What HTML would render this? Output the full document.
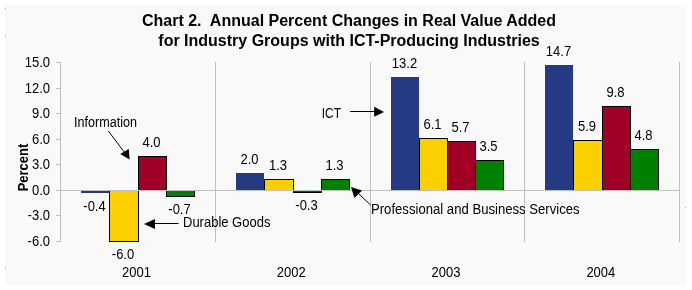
<!DOCTYPE html>
<html><head><meta charset="utf-8"><style>
html,body{margin:0;padding:0;background:#fff;}
body{width:692px;height:290px;overflow:hidden;position:relative;}
svg{position:absolute;left:0;top:0;will-change:transform;}
text{white-space:pre;font-family:"Liberation Sans",sans-serif;font-size:13px;fill:#000;}
.t{font-weight:bold;font-size:16px;}
</style></head><body>
<svg width="692" height="290" viewBox="0 0 692 290" xml:space="preserve">
<rect x="5" y="5" width="681" height="280" fill="#f9f9f9"/>
<rect x="5" y="8" width="1" height="1" fill="#aaa"/>
<rect x="5" y="36" width="1" height="1" fill="#aaa"/>
<rect x="5" y="268" width="1" height="1" fill="#aaa"/>
<rect x="685" y="207" width="1" height="1" fill="#aaa"/>
<g shape-rendering="crispEdges">
<rect x="60" y="62" width="1" height="180" fill="#c0c0c0"/>
<rect x="215" y="62" width="1" height="180" fill="#c0c0c0"/>
<rect x="370" y="62" width="1" height="180" fill="#c0c0c0"/>
<rect x="524" y="62" width="1" height="180" fill="#c0c0c0"/>
<rect x="679" y="62" width="1" height="180" fill="#c0c0c0"/>
<rect x="56" y="62" width="4" height="1" fill="#c0c0c0"/>
<rect x="56" y="88" width="4" height="1" fill="#c0c0c0"/>
<rect x="56" y="113" width="4" height="1" fill="#c0c0c0"/>
<rect x="56" y="139" width="4" height="1" fill="#c0c0c0"/>
<rect x="56" y="164" width="4" height="1" fill="#c0c0c0"/>
<rect x="56" y="190" width="4" height="1" fill="#c0c0c0"/>
<rect x="56" y="215" width="4" height="1" fill="#c0c0c0"/>
<rect x="56" y="241" width="4" height="1" fill="#c0c0c0"/>
<rect x="81" y="190" width="28" height="3" fill="#243b84"/>
<rect x="109" y="190" width="30" height="52" fill="#000"/>
<rect x="110" y="191" width="28" height="50" fill="#fcd000"/>
<rect x="138" y="156" width="29" height="35" fill="#000"/>
<rect x="139" y="157" width="27" height="33" fill="#a00026"/>
<rect x="166" y="190" width="29" height="7" fill="#000"/>
<rect x="167" y="191" width="27" height="5" fill="#008000"/>
<rect x="236" y="173" width="28" height="18" fill="#243b84"/>
<rect x="264" y="179" width="30" height="12" fill="#000"/>
<rect x="265" y="180" width="28" height="10" fill="#fcd000"/>
<rect x="293" y="190" width="29" height="3" fill="#000"/>
<rect x="294" y="191" width="27" height="1" fill="#a00026"/>
<rect x="321" y="179" width="29" height="12" fill="#000"/>
<rect x="322" y="180" width="27" height="10" fill="#008000"/>
<rect x="391" y="77" width="28" height="114" fill="#243b84"/>
<rect x="419" y="138" width="29" height="53" fill="#000"/>
<rect x="420" y="139" width="27" height="51" fill="#fcd000"/>
<rect x="447" y="141" width="29" height="50" fill="#000"/>
<rect x="448" y="142" width="27" height="48" fill="#a00026"/>
<rect x="475" y="160" width="29" height="31" fill="#000"/>
<rect x="476" y="161" width="27" height="29" fill="#008000"/>
<rect x="545" y="65" width="28" height="126" fill="#243b84"/>
<rect x="573" y="140" width="30" height="51" fill="#000"/>
<rect x="574" y="141" width="28" height="49" fill="#fcd000"/>
<rect x="602" y="106" width="29" height="85" fill="#000"/>
<rect x="603" y="107" width="27" height="83" fill="#a00026"/>
<rect x="630" y="149" width="29" height="42" fill="#000"/>
<rect x="631" y="150" width="27" height="40" fill="#008000"/>
<rect x="56" y="190" width="624" height="1" fill="#c0c0c0"/>
</g>
<line x1="108.3" y1="131" x2="125" y2="153" stroke="#000" stroke-width="1"/>
<polygon points="129.6,159.6 120.2,154 128.8,149" fill="#000"/>
<line x1="178.5" y1="223.5" x2="154" y2="223.5" stroke="#000" stroke-width="1"/>
<polygon points="143.9,224 155,218.9 155,228.9" fill="#000"/>
<line x1="350" y1="111.5" x2="375" y2="111.5" stroke="#000" stroke-width="1"/>
<polygon points="384.1,111.9 374.2,106.8 374.2,116.8" fill="#000"/>
<line x1="370.6" y1="205" x2="358" y2="193" stroke="#000" stroke-width="1"/>
<polygon points="351,187 362,190.4 354.4,198" fill="#000"/>
<text class="t" x="349" y="26" text-anchor="middle">Chart 2.  Annual Percent Changes in Real Value Added</text>
<text class="t" x="349" y="46" text-anchor="middle">for Industry Groups with ICT-Producing Industries</text>
<text x="0" y="0" transform="translate(27.5,167.5) rotate(-90) scale(1,1.1)" text-anchor="middle" style="font-weight:bold">Percent</text>
<text transform="translate(50.00,67.00) scale(1,1.1)" text-anchor="end" >15.0</text>
<text transform="translate(50.00,93.00) scale(1,1.1)" text-anchor="end" >12.0</text>
<text transform="translate(50.00,118.00) scale(1,1.1)" text-anchor="end" >9.0</text>
<text transform="translate(50.00,144.00) scale(1,1.1)" text-anchor="end" >6.0</text>
<text transform="translate(50.00,169.00) scale(1,1.1)" text-anchor="end" >3.0</text>
<text transform="translate(50.00,195.00) scale(1,1.1)" text-anchor="end" >0.0</text>
<text transform="translate(50.00,220.00) scale(1,1.1)" text-anchor="end" >-3.0</text>
<text transform="translate(50.00,246.00) scale(1,1.1)" text-anchor="end" >-6.0</text>
<text transform="translate(94.50,211.00) scale(1,1.1)" text-anchor="middle" >-0.4</text>
<text transform="translate(123.00,259.00) scale(1,1.1)" text-anchor="middle" >-6.0</text>
<text transform="translate(151.50,147.00) scale(1,1.1)" text-anchor="middle" >4.0</text>
<text transform="translate(179.50,214.00) scale(1,1.1)" text-anchor="middle" >-0.7</text>
<text transform="translate(249.50,164.00) scale(1,1.1)" text-anchor="middle" >2.0</text>
<text transform="translate(278.00,170.00) scale(1,1.1)" text-anchor="middle" >1.3</text>
<text transform="translate(306.50,210.00) scale(1,1.1)" text-anchor="middle" >-0.3</text>
<text transform="translate(334.50,170.00) scale(1,1.1)" text-anchor="middle" >1.3</text>
<text transform="translate(404.50,68.00) scale(1,1.1)" text-anchor="middle" >13.2</text>
<text transform="translate(432.50,129.00) scale(1,1.1)" text-anchor="middle" >6.1</text>
<text transform="translate(460.50,132.00) scale(1,1.1)" text-anchor="middle" >5.7</text>
<text transform="translate(488.50,151.00) scale(1,1.1)" text-anchor="middle" >3.5</text>
<text transform="translate(558.50,56.00) scale(1,1.1)" text-anchor="middle" >14.7</text>
<text transform="translate(587.00,131.00) scale(1,1.1)" text-anchor="middle" >5.9</text>
<text transform="translate(615.50,97.00) scale(1,1.1)" text-anchor="middle" >9.8</text>
<text transform="translate(643.50,140.00) scale(1,1.1)" text-anchor="middle" >4.8</text>
<text transform="translate(136.57,277.00) scale(1,1.1)" text-anchor="middle" >2001</text>
<text transform="translate(291.32,277.00) scale(1,1.1)" text-anchor="middle" >2002</text>
<text transform="translate(446.07,277.00) scale(1,1.1)" text-anchor="middle" >2003</text>
<text transform="translate(600.83,277.00) scale(1,1.1)" text-anchor="middle" >2004</text>
<text transform="translate(74.00,127.00) scale(0.97,1.1)" text-anchor="start" >Information</text>
<text transform="translate(183.00,227.00) scale(1,1.1)" text-anchor="start" >Durable Goods</text>
<text transform="translate(321.80,118.00) scale(0.92,1.1)" text-anchor="start" >ICT</text>
<text transform="translate(371.00,214.00) scale(1.01,1.1)" text-anchor="start" >Professional and Business Services</text>
</svg>
</body></html>
